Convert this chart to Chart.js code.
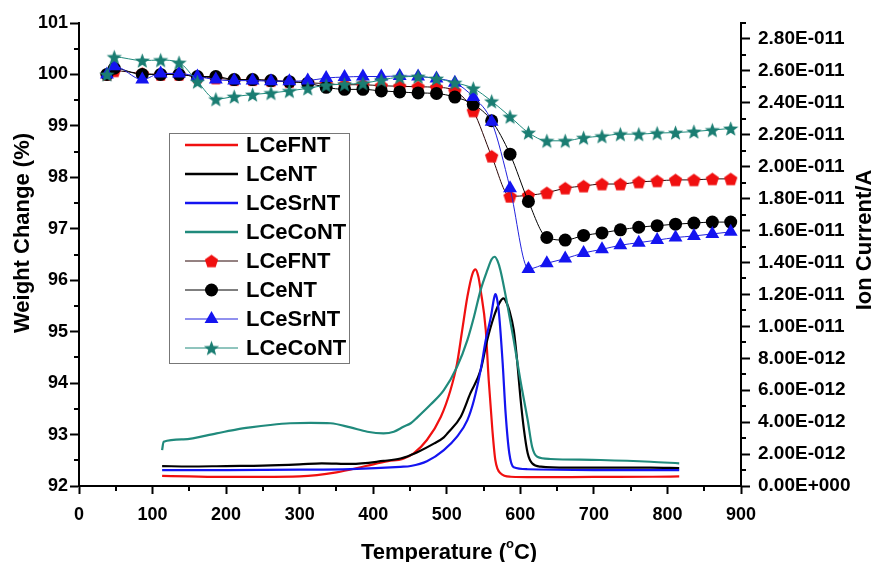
<!DOCTYPE html>
<html>
<head>
<meta charset="utf-8">
<script src="https://cdn.jsdelivr.net/npm/chart.js@4/dist/chart.umd.min.js"></script>
<style>
html,body{margin:0;padding:0;background:#fff;}
#wrap{width:875px;height:562px;position:relative;}
</style>
</head>
<body>
<div id="wrap"><canvas id="c" width="875" height="562"></canvas></div>
<script>
// ---------- data ----------
const seriesNames = ['LCeFNT', 'LCeNT', 'LCeSrNT', 'LCeCoNT'];

// Ion current (A) vs temperature (°C)
const ionTempFNT = [113,150,200,250,300,350,390,420,440,455,473,492,505,514,521,528,535,539,543,546,553,557,562,566,573,587,620,700,780,816];
const ionFNT = [0.63e-12,0.60e-12,0.57e-12,0.57e-12,0.60e-12,0.85e-12,1.25e-12,1.55e-12,1.70e-12,2.05e-12,2.88e-12,4.34e-12,6.0e-12,7.68e-12,9.77e-12,11.85e-12,13.3e-12,13.57e-12,13.1e-12,12.27e-12,9.77e-12,6.64e-12,3.51e-12,1.63e-12,0.80e-12,0.58e-12,0.55e-12,0.57e-12,0.58e-12,0.60e-12];

const ionTempNT = [113,150,200,250,300,330,370,414,437,451,460,483,496,501,519,532,546,555,564,572,577,582,585,591,596,600,605,610,616,628,664,777,816];
const ionNT = [1.25e-12,1.22e-12,1.25e-12,1.27e-12,1.35e-12,1.42e-12,1.38e-12,1.57e-12,1.72e-12,1.94e-12,2.12e-12,2.67e-12,3.05e-12,3.3e-12,4.34e-12,5.8e-12,7.26e-12,9.14e-12,10.6e-12,11.5e-12,11.75e-12,11.4e-12,11.0e-12,9.77e-12,7.68e-12,5.59e-12,3.5e-12,2.05e-12,1.42e-12,1.21e-12,1.15e-12,1.15e-12,1.12e-12];

const ionTempSrNT = [113,200,300,369,437,451,473,496,514,528,537,546,553,560,564,566,568,571,576,580,585,591,610,700,816];
const ionSrNT = [1.0e-12,1.0e-12,1.02e-12,1.06e-12,1.2e-12,1.25e-12,1.55e-12,2.25e-12,3.09e-12,4.13e-12,5.39e-12,7.26e-12,9.14e-12,10.6e-12,11.7e-12,12.02e-12,11.8e-12,10.8e-12,7.68e-12,4.55e-12,2.05e-12,1.17e-12,1.05e-12,1.0e-12,1.0e-12];

const ionTempCoNT = [113,115,142,187,215,233,260,287,315,342,369,392,414,428,441,451,460,478,496,514,528,537,546,555,561,565,569,573,582,591,600,610,616,623,641,709,777,816];
const ionCoNT = [2.25e-12,2.77e-12,2.92e-12,3.3e-12,3.55e-12,3.67e-12,3.82e-12,3.93e-12,3.96e-12,3.93e-12,3.67e-12,3.4e-12,3.3e-12,3.4e-12,3.71e-12,3.93e-12,4.3e-12,5.1e-12,6.0e-12,7.47e-12,9.14e-12,10.6e-12,12.27e-12,13.5e-12,14.2e-12,14.36e-12,14.1e-12,13.5e-12,11.44e-12,9.14e-12,6.64e-12,4.13e-12,2.46e-12,1.83e-12,1.69e-12,1.63e-12,1.52e-12,1.42e-12];

// Weight change (%) at marker temperatures (°C)
const markerTemps = [38,48,86,111,136,161,186,211,236,261,286,311,336,361,386,411,436,461,486,511,536,561,586,611,636,661,686,711,736,761,786,811,836,861,886];
const weightFNT = [100.0,100.07,100.02,100.0,100.0,99.95,99.93,99.9,99.9,99.88,99.86,99.84,99.82,99.8,99.8,99.78,99.77,99.76,99.75,99.68,99.29,98.41,97.63,97.65,97.70,97.79,97.83,97.87,97.87,97.91,97.93,97.95,97.95,97.97,97.97];
const weightNT = [100.0,100.12,100.0,100.0,100.0,99.96,99.96,99.9,99.9,99.88,99.86,99.83,99.75,99.71,99.71,99.68,99.66,99.64,99.63,99.56,99.42,99.1,98.45,97.53,96.83,96.78,96.87,96.92,96.98,97.03,97.06,97.09,97.11,97.13,97.13];
const weightSrNT = [100.0,100.16,99.9,100.02,100.02,99.96,99.9,99.88,99.88,99.87,99.87,99.88,99.93,99.95,99.96,99.96,99.97,99.96,99.92,99.84,99.56,99.08,97.79,96.22,96.33,96.42,96.53,96.6,96.68,96.73,96.78,96.83,96.86,96.9,96.94];
const weightCoNT = [100.0,100.34,100.27,100.28,100.23,99.86,99.52,99.57,99.61,99.64,99.68,99.73,99.79,99.81,99.83,99.89,99.95,99.96,99.92,99.84,99.73,99.48,99.18,98.87,98.71,98.71,98.77,98.80,98.84,98.84,98.86,98.87,98.89,98.92,98.95];

// Tick values / labels
const tempTicks = [0,100,200,300,400,500,600,700,800,900];
const tempTickLabels = ['0','100','200','300','400','500','600','700','800','900'];
const weightTicks = [92,93,94,95,96,97,98,99,100,101];
const weightTickLabels = ['92','93','94','95','96','97','98','99','100','101'];
const ionTickValues = [0,2e-12,4e-12,6e-12,8e-12,1e-11,1.2e-11,1.4e-11,1.6e-11,1.8e-11,2e-11,2.2e-11,2.4e-11,2.6e-11,2.8e-11];
const ionTickLabels = ['0.00E+000','2.00E-012','4.00E-012','6.00E-012','8.00E-012','1.00E-011','1.20E-011','1.40E-011','1.60E-011','1.80E-011','2.00E-011','2.20E-011','2.40E-011','2.60E-011','2.80E-011'];

// ---------- styling ----------
const FONT = "'Liberation Sans', Arial, Helvetica, sans-serif";
const RED = '#f01010', BLACK = '#000000', BLUE = '#1414f0', TEAL = '#208a7c', TEAL_M = '#1a7d72';

function makeShape(kind, color, size) {
  const c = document.createElement('canvas');
  c.width = size; c.height = size;
  const g = c.getContext('2d');
  g.fillStyle = color;
  const cx = size / 2, cy = size / 2, R = size / 2 - 0.5;
  g.beginPath();
  if (kind === 'pentagon') {
    for (let i = 0; i < 5; i++) {
      const a = -Math.PI / 2 + i * 2 * Math.PI / 5;
      const px = cx + R * Math.cos(a), py = cy + R * Math.sin(a) + R * 0.095;
      i ? g.lineTo(px, py) : g.moveTo(px, py);
    }
  } else {
    for (let i = 0; i < 10; i++) {
      const a = -Math.PI / 2 + i * Math.PI / 5;
      const r = (i % 2 === 0) ? R : R * 0.42;
      const px = cx + r * Math.cos(a), py = cy + r * Math.sin(a) + R * 0.1;
      i ? g.lineTo(px, py) : g.moveTo(px, py);
    }
  }
  g.closePath();
  g.fill();
  return c;
}
const pentagon = makeShape('pentagon', RED, 15);
const star = makeShape('star', TEAL_M, 17);

function pts(xs, ys) { return xs.map((x, i) => ({ x: x, y: ys[i] })); }

function ionDS(label, xs, ys, color, order) {
  return { type: 'line', label: label, data: pts(xs, ys), yAxisID: 'yI', borderColor: color,
    backgroundColor: color, borderWidth: 2.2, pointRadius: 0, fill: false,
    cubicInterpolationMode: 'monotone', order: order, kind: 'line' };
}
function markDS(label, ys, lineColor, color, style, radius, order) {
  return { type: 'line', label: label, data: pts(markerTemps, ys), yAxisID: 'yW', borderColor: lineColor,
    backgroundColor: color, borderWidth: 1, pointStyle: style, pointRadius: radius,
    pointBackgroundColor: color, pointBorderColor: color, pointBorderWidth: 0, fill: false,
    cubicInterpolationMode: 'monotone', order: order, kind: 'marker', markColor: color };
}

const datasets = [
  ionDS(seriesNames[0], ionTempFNT, ionFNT, RED, 8),
  ionDS(seriesNames[1], ionTempNT, ionNT, BLACK, 7),
  ionDS(seriesNames[2], ionTempSrNT, ionSrNT, BLUE, 6),
  ionDS(seriesNames[3], ionTempCoNT, ionCoNT, TEAL, 5),
  markDS(seriesNames[0], weightFNT, '#2a0505', RED, pentagon, 7, 4),
  markDS(seriesNames[1], weightNT, BLACK, BLACK, 'circle', 6.5, 3),
  markDS(seriesNames[2], weightSrNT, '#2222dd', BLUE, 'triangle', 8, 2),
  markDS(seriesNames[3], weightCoNT, TEAL, TEAL_M, star, 8, 1)
];

const tickFont = { family: FONT, size: 18, weight: 'bold' };
const tickFontR = { family: FONT, size: 19, weight: 'bold' };
const gridBase = { display: true, drawOnChartArea: false, drawTicks: true, tickWidth: 2, tickColor: '#000' };
const borderBase = { display: true, color: '#000', width: 2 };

// ---------- decorations: minor ticks, axis titles, legend ----------
const deco = {
  id: 'deco',
  afterDraw(chart) {
    const ctx = chart.ctx;
    const sx = chart.scales.x, sw = chart.scales.yW, si = chart.scales.yI;
    const area = chart.chartArea;
    ctx.save();
    ctx.strokeStyle = '#000';
    ctx.lineWidth = 2;
    // minor ticks
    ctx.beginPath();
    for (let v = 50; v < 900; v += 100) {
      const p = Math.round(sx.getPixelForValue(v));
      ctx.moveTo(p, area.bottom); ctx.lineTo(p, area.bottom + 5);
    }
    for (let v = 92.5; v < 101; v += 1) {
      const p = Math.round(sw.getPixelForValue(v));
      ctx.moveTo(area.left, p); ctx.lineTo(area.left - 5, p);
    }
    for (let k = 1; k <= 29; k += 2) {
      const p = Math.round(si.getPixelForValue(k * 1e-12));
      ctx.moveTo(area.right, p); ctx.lineTo(area.right + 5, p);
    }
    ctx.stroke();

    // axis titles
    ctx.fillStyle = '#000';
    ctx.font = "bold 22px " + FONT;
    ctx.textAlign = 'center';
    ctx.textBaseline = 'middle';
    ctx.save();
    ctx.translate(23, 233);
    ctx.rotate(-Math.PI / 2);
    ctx.fillText('Weight Change (%)', 0, 0);
    ctx.restore();
    ctx.save();
    ctx.translate(865, 240);
    ctx.rotate(-Math.PI / 2);
    ctx.fillText('Ion Current/A', 0, 0);
    ctx.restore();

    // bottom title with superscript degree
    ctx.textAlign = 'left';
    ctx.textBaseline = 'alphabetic';
    const big = "bold 22px " + FONT, small = "bold 13px " + FONT;
    const p1 = 'Temperature (', p2 = 'o', p3 = 'C)';
    ctx.font = big; const w1 = ctx.measureText(p1).width, w3 = ctx.measureText(p3).width;
    ctx.font = small; const w2 = ctx.measureText(p2).width;
    let tx = 449 - (w1 + w2 + w3) / 2;
    const base = 559;
    ctx.font = big; ctx.fillText(p1, tx, base); tx += w1;
    ctx.font = small; ctx.fillText(p2, tx, base - 11); tx += w2;
    ctx.font = big; ctx.fillText(p3, tx, base);

    // legend
    const L = { left: 169, top: 133, right: 349, bottom: 363 };
    ctx.fillStyle = '#fff';
    ctx.fillRect(L.left, L.top, L.right - L.left, L.bottom - L.top);
    ctx.strokeStyle = '#777';
    ctx.lineWidth = 1;
    ctx.strokeRect(L.left + 0.5, L.top + 0.5, L.right - L.left, L.bottom - L.top);
    const rowY0 = 145, rowH = 29, x0 = 185, x1 = 238, tX = 246;
    chart.data.datasets.forEach((ds, i) => {
      const y = rowY0 + i * rowH;
      ctx.strokeStyle = ds.borderColor;
      ctx.lineWidth = ds.kind === 'line' ? 2.5 : 1;
      ctx.beginPath(); ctx.moveTo(x0, y); ctx.lineTo(x1, y); ctx.stroke();
      if (ds.kind === 'marker') {
        const cx = (x0 + x1) / 2;
        const st = ds.pointStyle;
        ctx.fillStyle = ds.markColor;
        if (st === 'circle') {
          ctx.beginPath(); ctx.arc(cx, y, ds.pointRadius, 0, Math.PI * 2); ctx.fill();
        } else if (st === 'triangle') {
          const r = ds.pointRadius;
          ctx.beginPath();
          for (let k = 0; k < 3; k++) {
            const a = k * 2 * Math.PI / 3;
            const px = cx + Math.sin(a) * r, py = y - Math.cos(a) * r;
            k ? ctx.lineTo(px, py) : ctx.moveTo(px, py);
          }
          ctx.closePath(); ctx.fill();
        } else {
          ctx.drawImage(st, cx - st.width / 2, y - st.height / 2);
        }
      }
      ctx.fillStyle = '#000';
      ctx.font = "bold 22px " + FONT;
      ctx.textAlign = 'left';
      ctx.textBaseline = 'middle';
      ctx.fillText(ds.label, tX, y + 1);
    });
    ctx.restore();
  }
};

new Chart(document.getElementById('c'), {
  type: 'line',
  data: { datasets: datasets },
  options: {
    responsive: false,
    animation: false,
    devicePixelRatio: 1,
    layout: { padding: { top: 23, left: 0, right: 0, bottom: 0 } },
    plugins: { legend: { display: false }, tooltip: { enabled: false } },
    scales: {
      x: {
        type: 'linear', position: 'bottom', min: 0, max: 900,
        afterBuildTicks: s => { s.ticks = tempTicks.map(v => ({ value: v })); },
        ticks: { callback: (v, i) => tempTickLabels[i], font: tickFont, color: '#000', padding: 10, maxRotation: 0, autoSkip: false },
        grid: Object.assign({}, gridBase, { tickLength: 8 }),
        border: borderBase,
        afterFit: s => { s.height = 76; }
      },
      yW: {
        type: 'linear', position: 'left', min: 92, max: 101,
        afterBuildTicks: s => { s.ticks = weightTicks.map(v => ({ value: v })); },
        ticks: { callback: (v, i) => weightTickLabels[i], font: tickFont, color: '#000', padding: 2, autoSkip: false },
        grid: Object.assign({}, gridBase, { tickLength: 9 }),
        border: borderBase,
        afterFit: s => { s.width = 79; }
      },
      yI: {
        type: 'linear', position: 'right', min: 0, max: 2.9e-11,
        afterBuildTicks: s => { s.ticks = ionTickValues.map(v => ({ value: v })); },
        ticks: { callback: (v, i) => ionTickLabels[i], font: tickFontR, color: '#000', padding: 8, autoSkip: false },
        grid: Object.assign({}, gridBase, { tickLength: 9 }),
        border: borderBase,
        afterFit: s => { s.width = 134; }
      }
    }
  },
  plugins: [deco]
});
</script>
</body>
</html>
